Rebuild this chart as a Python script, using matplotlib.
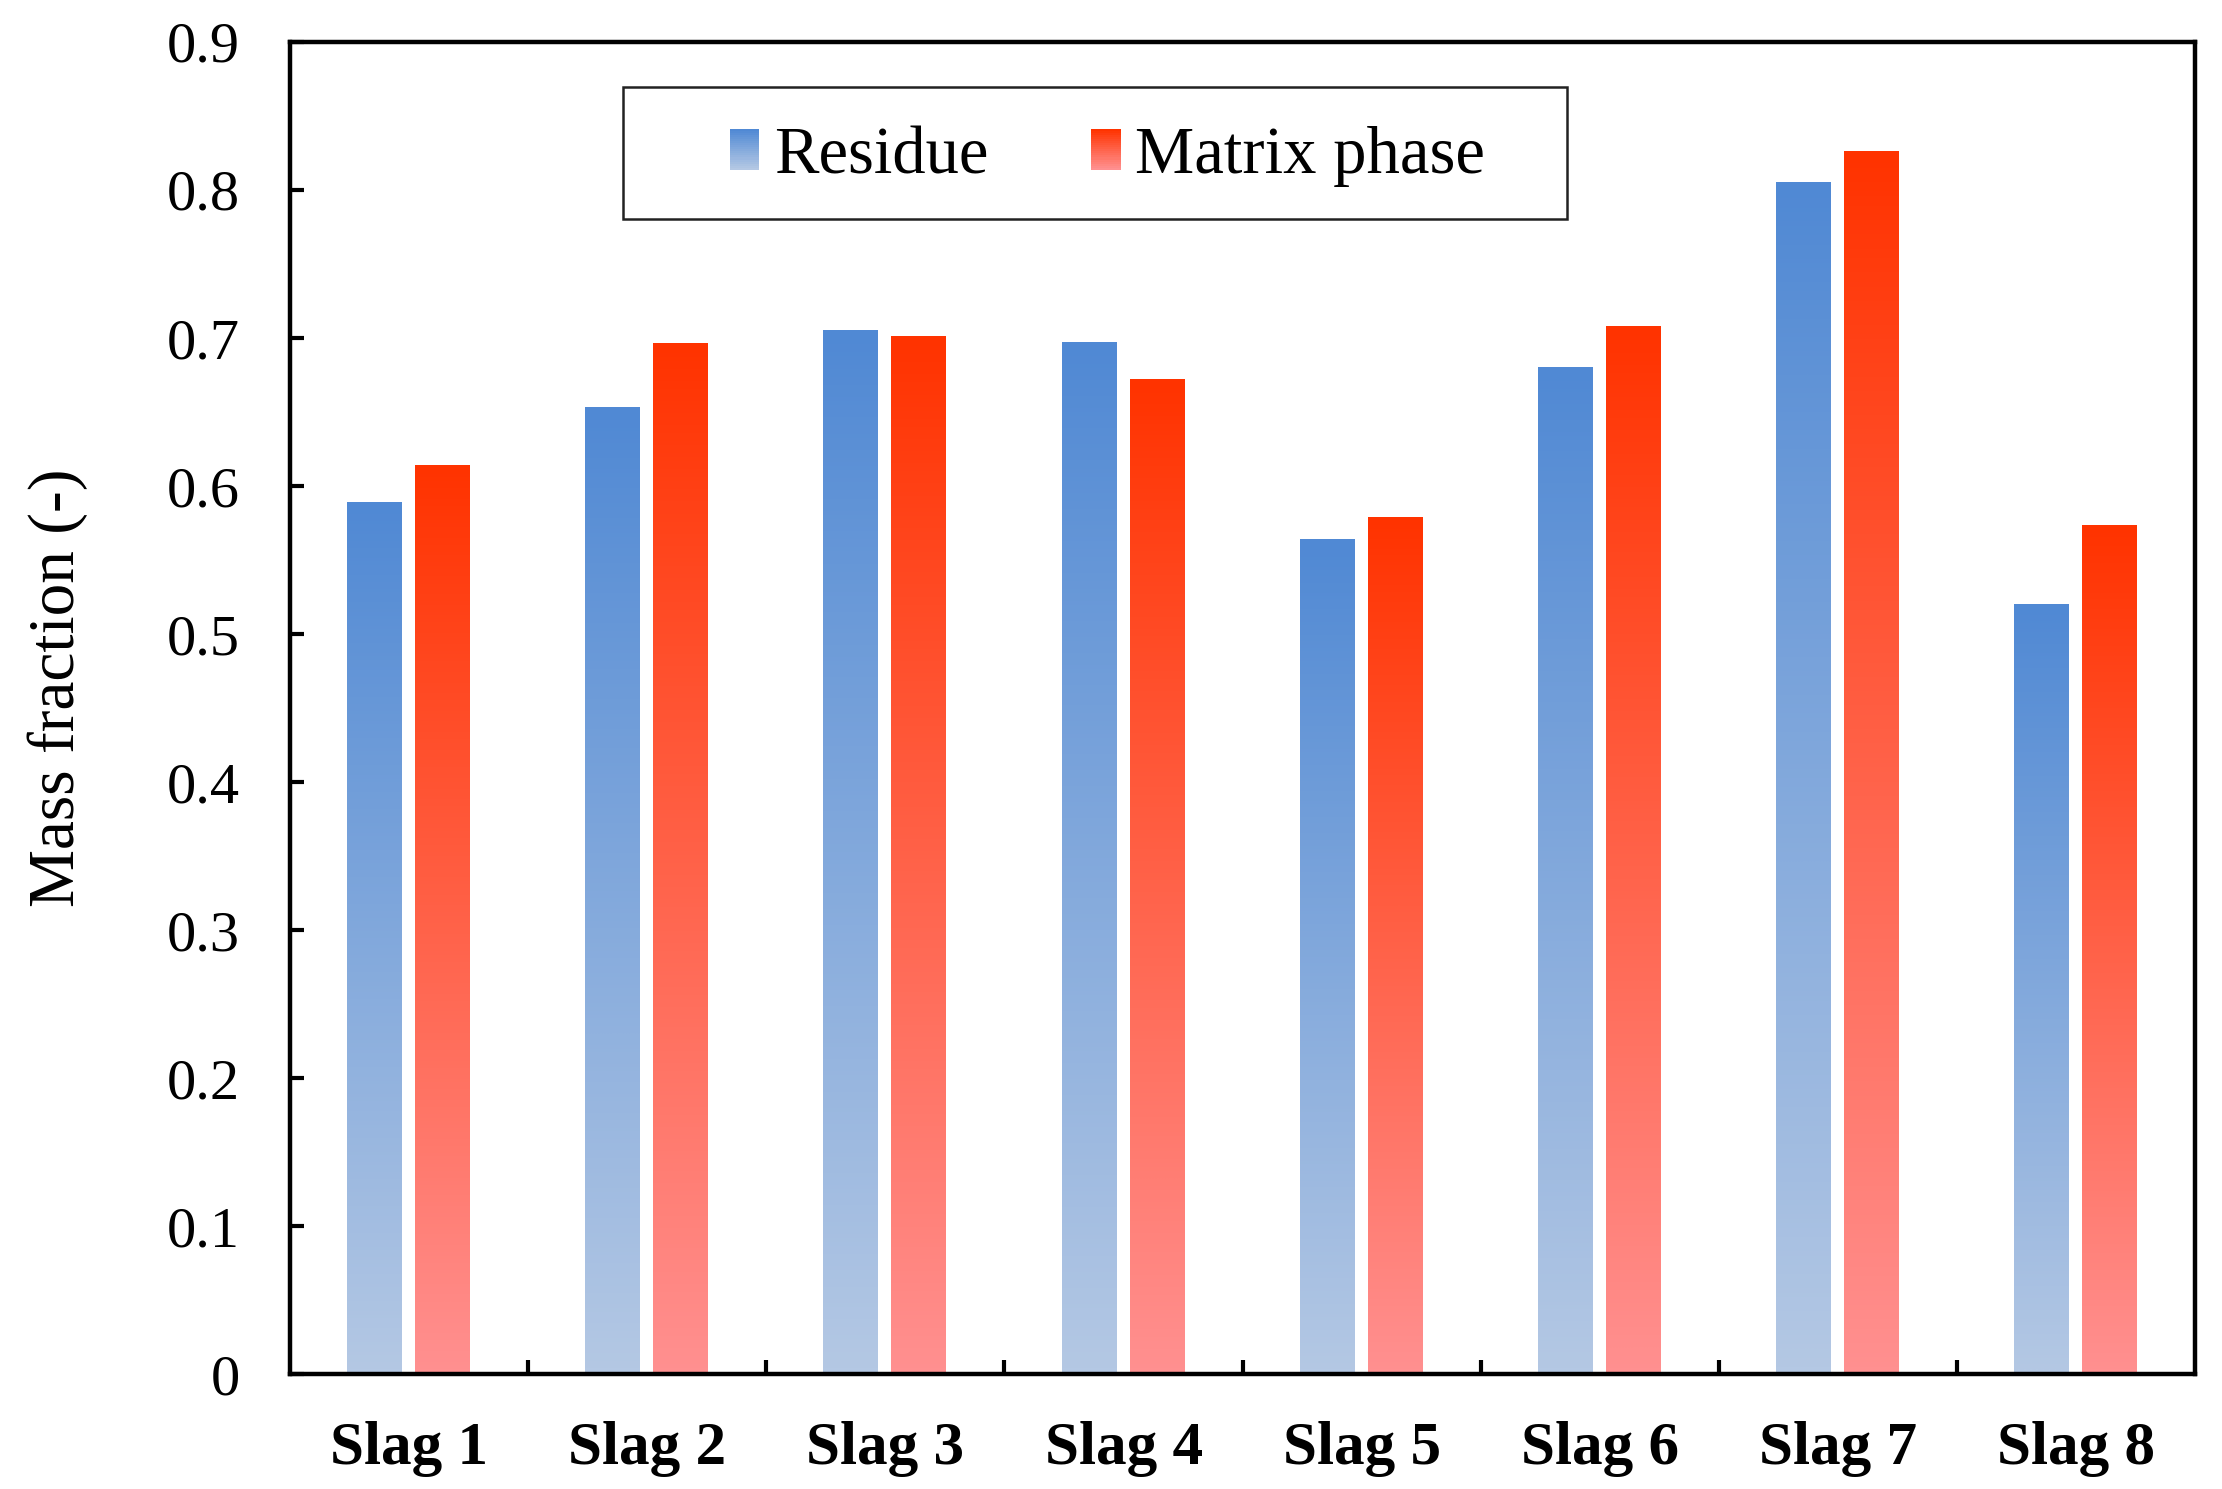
import numpy as np
import matplotlib.pyplot as plt
from matplotlib.colors import LinearSegmentedColormap
from matplotlib.patches import Rectangle
from matplotlib.legend_handler import HandlerBase

plt.rcParams['font.family'] = ['Liberation Serif', 'DejaVu Serif']

# 数据
categories = ["Slag 1", "Slag 2", "Slag 3", "Slag 4", "Slag 5", "Slag 6", "Slag 7", "Slag 8"]
residue = [0.589, 0.653, 0.705, 0.697, 0.564, 0.680, 0.805, 0.520]
matrix_phase = [0.614, 0.696, 0.701, 0.672, 0.579, 0.708, 0.826, 0.573]
series_names = ["Residue", "Matrix phase"]
yticks = [0, 0.1, 0.2, 0.3, 0.4, 0.5, 0.6, 0.7, 0.8, 0.9]
ytick_labels = ["0", "0.1", "0.2", "0.3", "0.4", "0.5", "0.6", "0.7", "0.8", "0.9"]

# 渐变色 (底部浅, 顶部深)
blue_cmap = LinearSegmentedColormap.from_list("blue_grad", ["#B4C8E4", "#5089D4"])
red_cmap = LinearSegmentedColormap.from_list("red_grad", ["#FF9090", "#FF3300"])

bar_w = 0.23
offsets = [-0.145, 0.14]
grad = np.linspace(0, 1, 256).reshape(-1, 1)


class GradientHandler(HandlerBase):
    def __init__(self, cmap):
        super().__init__()
        self.cmap = cmap

    def create_artists(self, legend, orig_handle, xdescent, ydescent,
                       width, height, fontsize, trans):
        n = 20
        arts = []
        for i in range(n):
            r = Rectangle((-xdescent, -ydescent + i * height / n), width, height / n + 0.3,
                          facecolor=self.cmap(i / (n - 1)), edgecolor="none", transform=trans)
            arts.append(r)
        return arts


fig = plt.figure(figsize=(11.11, 7.445), dpi=200)
ax = fig.add_axes([0.1305, 0.0772, 0.8575, 0.8946])

x = np.arange(len(categories))
for vals, off, cmap in zip([residue, matrix_phase], offsets, [blue_cmap, red_cmap]):
    for xi, v in zip(x, vals):
        ax.imshow(grad, cmap=cmap, origin="lower", aspect="auto", interpolation="bilinear",
                  extent=(xi + off - bar_w / 2, xi + off + bar_w / 2, 0, v), zorder=2)

ax.set_xlim(-0.5, len(categories) - 0.5)
ax.set_ylim(0, 0.9)

ax.set_yticks(yticks)
ax.set_yticklabels(ytick_labels, fontsize=21)
ax.set_xticks(x)
ax.set_xticklabels(categories, fontsize=22, fontweight="bold")
ax.set_xticks(np.arange(0.5, len(categories) - 0.5, 1), minor=True)
ax.tick_params(axis="x", which="major", length=0, pad=17)
ax.tick_params(axis="x", which="minor", direction="in", length=5, width=1.5)
ax.tick_params(axis="y", direction="in", length=5, width=1.5, pad=18)
ax.set_ylabel("Mass fraction (-)", fontsize=23.5)
ax.yaxis.set_label_coords(-0.106, 0.515)

for s in ax.spines.values():
    s.set_linewidth(1.6)
    s.set_zorder(5)

# 图例框
ax.add_patch(Rectangle((0.175, 0.867), 0.495, 0.099, transform=ax.transAxes,
                       facecolor="white", edgecolor="#222222", linewidth=0.9, zorder=6))
h1 = Rectangle((0, 0), 1, 1)
h2 = Rectangle((0, 0), 1, 1)
leg = ax.legend([h1, h2], series_names, ncol=2, loc="center", bbox_to_anchor=(0.429, 0.914),
                frameon=False, fontsize=24, handlelength=0.44, handleheight=0.55,
                handletextpad=0.22, columnspacing=1.55, borderaxespad=0,
                handler_map={h1: GradientHandler(blue_cmap), h2: GradientHandler(red_cmap)})
leg.set_zorder(7)

fig.savefig("out.png", dpi=200, facecolor="white")
